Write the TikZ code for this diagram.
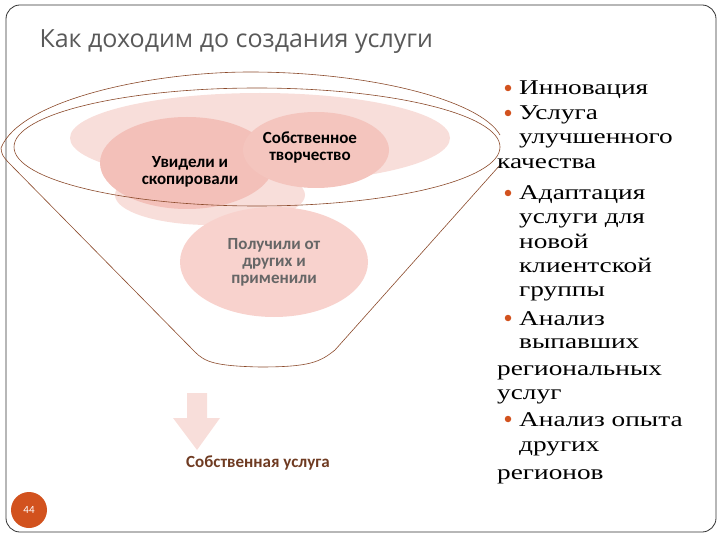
\documentclass[tikz,border=0pt]{standalone}
\usepackage{fontspec}
\setmainfont{Liberation Serif}
\newfontfamily\calfam{Carlito}
\newfontfamily\osfam{Open Sans}
\newcommand{\wide}[1]{\scalebox{1.3}[1]{#1}}
\begin{document}
\begin{tikzpicture}[x=1pt,y=-1pt,
  rt/.style={anchor=base west,inner sep=0pt,font=\fontsize{21}{22}\selectfont},
  bl/.style={circle,fill=bulc,inner sep=0pt,minimum size=6.5pt},
  bt/.style={font=\calfam\bfseries\fontsize{17}{17}\selectfont,align=center}]
\definecolor{bulc}{HTML}{D2521E}
\definecolor{lp}{HTML}{F8DEDA}
\definecolor{dp}{HTML}{F3C0B9}
\definecolor{mp}{HTML}{F8D2CD}
\definecolor{fr}{HTML}{8B4A2B}
\useasboundingbox (0,0) rectangle (720,540);
\draw[black!80,line width=0.8pt,rounded corners=14pt] (6,5) rectangle (716,532);
\node[anchor=west,font=\osfam\fontsize{25}{26}\selectfont,text=black!65] (title) at (36,42) {Как доходим до создания услуги};
% blobs
\fill[lp] (260,138) ellipse [x radius=190,y radius=45];
\fill[lp] (210,195) ellipse [x radius=95,y radius=30];
\fill[dp] (187,163) ellipse [x radius=87,y radius=46];
\fill[dp!85!lp] (316,150) ellipse [x radius=73,y radius=38];
\fill[mp] (274,262) ellipse [x radius=94,y radius=55];
\node[bt] (b1) at (190,172) {Увидели и\\скопировали};
\node[bt] (b2) at (310,147) {Собственное\\творчество};
\node[bt,text=black!60] (b3) at (274,262) {Получили от\\других и\\применили};
% funnel
\draw[fr,line width=0.6pt] (1,148) .. controls (20,100) and (150,72) .. (250,72) .. controls (370,72) and (480,100) .. (500,135);
\draw[fr,line width=0.6pt] (1,148) .. controls (2,155) .. (8,162) -- (195,352) .. controls (205,362) and (215,366) .. (260,367) .. controls (310,367) and (320,362) .. (335,350) -- (500,165);
\draw[fr,line width=0.6pt] (257,147) ellipse [x radius=243,y radius=59];
% arrow
\fill[lp] (187,393) -- (207,393) -- (207,418) -- (220,418) -- (197,450) -- (173,418) -- (187,418) -- cycle;
\node[font=\calfam\bfseries\fontsize{17}{17}\selectfont,text=fr!80!black] (out) at (258,463) {Собственная услуга};
% page number
\node[circle,fill=bulc,minimum size=36pt,inner sep=0pt,text=white,font=\calfam\fontsize{11}{12}\selectfont] (pg) at (29,510) {44};
% right list
\node[bl] (d1) at (508,88) {}; \node[rt] (t1) at (519,95) {\wide{Инновация}};
\node[bl] (d2) at (508,113) {}; \node[rt] (t2) at (519,120) {\wide{Услуга}};
\node[rt] (t3) at (519,144) {\wide{улучшенного}};
\node[rt] (t4) at (497,169) {\wide{качества}};
\node[bl] (d5) at (508,193) {}; \node[rt] (t5) at (519,200) {\wide{Адаптация}};
\node[rt] (t6) at (519,224) {\wide{услуги для}};
\node[rt] (t7) at (519,248) {\wide{новой}};
\node[rt] (t8) at (519,272) {\wide{клиентской}};
\node[rt] (t9) at (519,296) {\wide{группы}};
\node[bl] (d10) at (508,318) {}; \node[rt] (t10) at (519,325) {\wide{Анализ}};
\node[rt] (t11) at (519,348) {\wide{выпавших}};
\node[rt] (t12) at (497,375) {\wide{региональных}};
\node[rt] (t13) at (497,399) {\wide{услуг}};
\node[bl] (d14) at (508,419) {}; \node[rt] (t14) at (519,426) {\wide{Анализ опыта}};
\node[rt] (t15) at (519,451) {\wide{других}};
\node[rt] (t16) at (497,479) {\wide{регионов}};
\end{tikzpicture}
\end{document}
